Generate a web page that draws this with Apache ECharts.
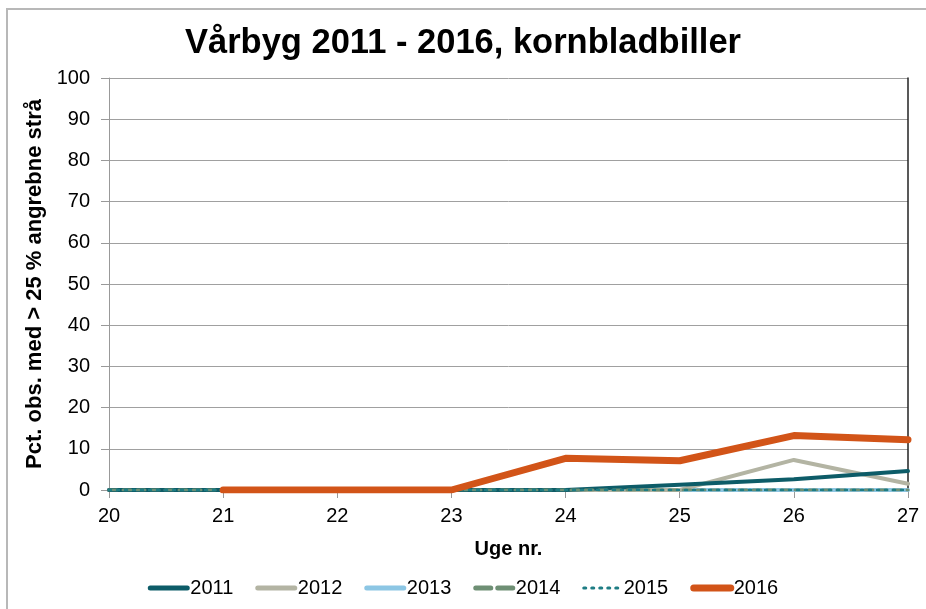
<!DOCTYPE html>
<html>
<head>
<meta charset="utf-8">
<script src="https://cdn.jsdelivr.net/npm/echarts@6/dist/echarts.min.js"></script>
<style>
  html, body { margin: 0; padding: 0; background: #fff; }
  #chart { width: 926px; height: 609px; }
  #frame {
    position: absolute; left: 6px; top: 8px; right: 0; bottom: 0;
    border-top: 2px solid #b8b8b8; border-left: 2px solid #b8b8b8;
    pointer-events: none;
  }
</style>
</head>
<body>
<div id="chart"></div>
<div id="frame"></div>
<script>
  // Data
  var weeks = [20, 21, 22, 23, 24, 25, 26, 27];
  var y2011 = [0, 0, 0, 0, 0, 1.3, 2.6, 4.6];
  var y2012 = [0, 0, 0, 0, 0, 0, 7.3, 1.5];
  var y2013 = [0, 0, 0, 0, 0, 0, 0, 0];
  var y2014 = [0, 0, 0, 0, 0, 0, 0, 0];
  var y2015 = [0, 0, 0, 0, 0, 0, 0, 0];
  var y2016 = [null, 0, 0, 0, 7.7, 7.1, 13.2, 12.2];

  function pairs(vals) {
    return weeks.map(function (w, i) { return [w, vals[i]]; });
  }

  function line(name, vals, color, width, type, z) {
    return {
      name: name,
      type: 'line',
      data: pairs(vals),
      symbol: 'none',
      z: z,
      connectNulls: false,
      lineStyle: { color: color, width: width, type: type, cap: 'round' },
      itemStyle: { color: color },
      emphasis: { disabled: true }
    };
  }

  var font = 'Liberation Sans, Arial, sans-serif';
  var chart = echarts.init(document.getElementById('chart'), null, { renderer: 'canvas' });

  chart.setOption({
    animation: false,
    backgroundColor: '#fff',
    title: {
      text: 'Vårbyg 2011 - 2016, kornbladbiller',
      left: 'center',
      top: 21,
      textStyle: { fontFamily: font, fontSize: 34.5, fontWeight: 'bold', color: '#000' }
    },
    legend: {
      bottom: 6,
      left: 'center',
      itemWidth: 37,
      itemHeight: 12,
      itemGap: 22,
      itemStyle: { opacity: 0 },
      lineStyle: { width: 5 },
      textStyle: { fontFamily: font, fontSize: 20, color: '#000', padding: [0, 0, 0, -2] },
      data: ['2011', '2012', '2013',
        { name: '2014', lineStyle: { type: [15, 7] } },
        { name: '2015', lineStyle: { width: 3 } },
        { name: '2016', lineStyle: { width: 7 } }]
    },
    grid: { left: 109, right: 18, top: 78, bottom: 119 },
    xAxis: {
      type: 'value',
      min: 20,
      max: 27,
      interval: 1,
      name: 'Uge nr.',
      nameLocation: 'middle',
      nameGap: 49,
      nameTextStyle: { fontFamily: font, fontSize: 20, fontWeight: 'bold', color: '#000' },
      axisLine: { lineStyle: { color: '#999', width: 1 } },
      axisTick: { show: true, length: 8, lineStyle: { color: '#999' } },
      axisLabel: { fontFamily: font, fontSize: 20, color: '#000', margin: 16 },
      splitLine: { show: false }
    },
    yAxis: [{
      type: 'value',
      min: 0,
      max: 100,
      interval: 10,
      name: 'Pct. obs. med > 25 % angrebne strå',
      nameLocation: 'middle',
      nameGap: 60,
      nameTextStyle: { fontFamily: font, fontSize: 22, fontWeight: 'bold', color: '#000' },
      axisLine: { show: true, lineStyle: { color: '#999', width: 1 } },
      axisTick: { show: true, length: 8, lineStyle: { color: '#999' } },
      axisLabel: { fontFamily: font, fontSize: 20, color: '#000', margin: 19 },
      splitLine: { lineStyle: { color: '#a0a0a0', width: 1 } }
    }, {
      type: 'value',
      position: 'right',
      min: 0,
      max: 100,
      axisLine: { show: true, lineStyle: { color: '#222', width: 1.5 } },
      axisTick: { show: false },
      axisLabel: { show: false },
      splitLine: { show: false }
    }],
    series: [
      line('2011', y2011, '#0d5c68', 4, 'solid', 4),
      line('2012', y2012, '#b3b4a3', 4, 'solid', 3),
      line('2013', y2013, '#8cc6e4', 4, 'solid', 2),
      line('2014', y2014, '#6e8f74', 3, [8, 6], 5),
      line('2015', y2015, '#1e7d84', 2.5, [2, 6], 6),
      line('2016', y2016, '#d25418', 7, 'solid', 7)
    ]
  });
</script>
</body>
</html>
